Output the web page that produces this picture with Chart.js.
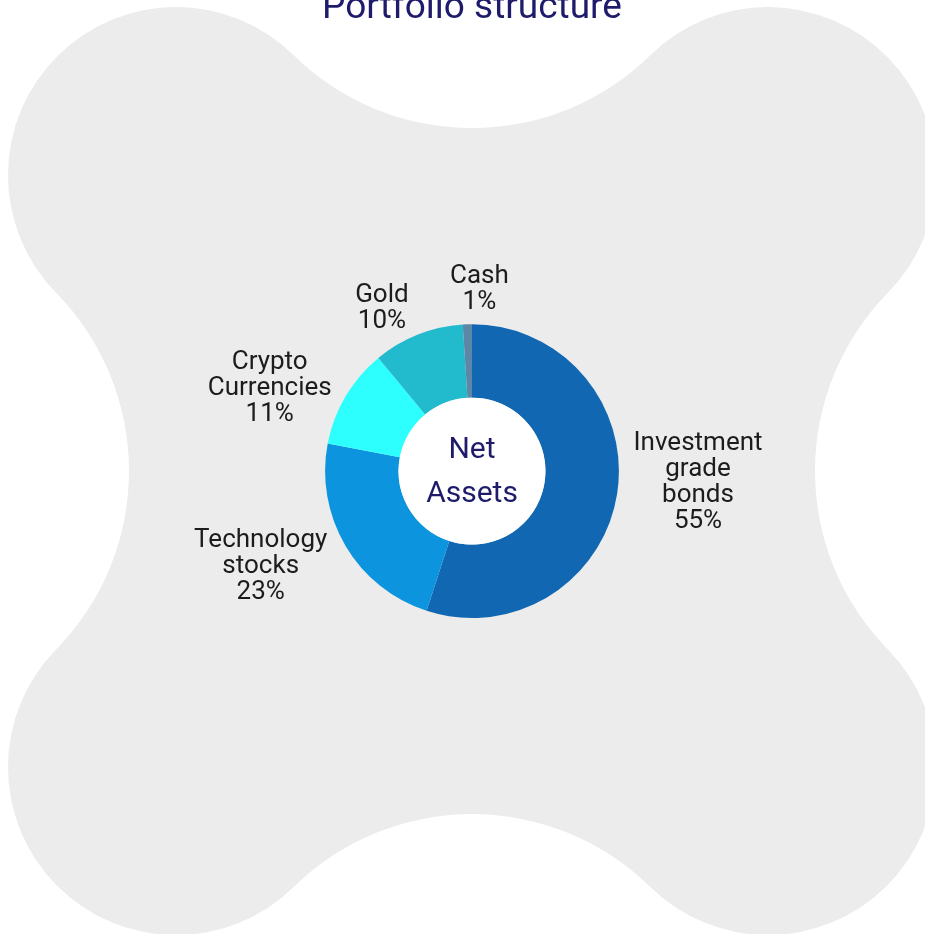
<!DOCTYPE html>
<html>
<head>
<meta charset="utf-8">
<title>Portfolio structure</title>
<script src="https://cdn.jsdelivr.net/npm/chart.js@4.4.1/dist/chart.umd.min.js"></script>
<style>
  html, body { margin: 0; padding: 0; background: #fff; overflow: hidden; }
  /* canvas is a bit wider than the window and starts above it, title gets clipped like the original */
  .chart-wrap { position: absolute; left: 0; top: -15px; width: 944px; height: 949px; }
</style>
</head>
<body>
<div class="chart-wrap"><canvas id="myChart"></canvas></div>
<script>
// data
const chartTitle = 'Portfolio structure';
const categories = ['Investment grade bonds', 'Technology stocks', 'Crypto Currencies', 'Gold', 'Cash'];
const shares = [55, 23, 11, 10, 1];
const centerLines = ['Net', 'Assets'];

const sliceColors = ['#1167b1', '#0d94de', '#2dfffe', '#22bacd', '#5c87a6'];

// grey four-lobed shape behind the chart
const bgShape = {
  id: 'bgShape',
  beforeDraw(chart, args, opts) {
    const ctx = chart.ctx;
    const area = chart.chartArea;
    const cx = (area.left + area.right) / 2;
    const cy = (area.top + area.bottom) / 2;
    const a = opts.lobeOffset, r = opts.lobeRadius, d = opts.notchDepth;
    // big circles for the notches, tangent to the lobes
    const b = (2 * a * a - (r - d) * (r - d)) / (2 * a + 2 * (r - d));
    const R = b - d;
    const corners = [[-1, -1], [1, -1], [1, 1], [-1, 1]];
    const sides = [[0, -1], [1, 0], [0, 1], [-1, 0]];
    ctx.save();
    ctx.fillStyle = opts.color;
    ctx.beginPath();
    for (let i = 0; i < 4; i++) {
      const L = { x: cx + corners[i][0] * a, y: cy + corners[i][1] * a };
      const n = corners[(i + 1) % 4];
      const L2 = { x: cx + n[0] * a, y: cy + n[1] * a };
      const ps = sides[(i + 3) % 4], ns = sides[i];
      const Sp = { x: cx + ps[0] * b, y: cy + ps[1] * b };
      const Sn = { x: cx + ns[0] * b, y: cy + ns[1] * b };
      ctx.arc(L.x, L.y, r, Math.atan2(Sp.y - L.y, Sp.x - L.x), Math.atan2(Sn.y - L.y, Sn.x - L.x), false);
      ctx.arc(Sn.x, Sn.y, R, Math.atan2(L.y - Sn.y, L.x - Sn.x), Math.atan2(L2.y - Sn.y, L2.x - Sn.x), true);
    }
    ctx.closePath();
    ctx.fill();
    ctx.restore();
  }
};

// white hole + "Net Assets"
const centerHole = {
  id: 'centerHole',
  afterDatasetsDraw(chart, args, opts) {
    const ctx = chart.ctx;
    const arc = chart.getDatasetMeta(0).data[0];
    if (!arc) return;
    const p = arc.getProps(['x', 'y', 'innerRadius'], true);
    ctx.save();
    ctx.fillStyle = '#ffffff';
    ctx.beginPath();
    ctx.arc(p.x, p.y, p.innerRadius, 0, Math.PI * 2);
    ctx.fill();
    ctx.fillStyle = opts.color;
    ctx.font = opts.size + 'px ' + opts.family;
    ctx.textAlign = 'center';
    ctx.textBaseline = 'middle';
    const top = p.y - (centerLines.length - 1) * opts.lineGap / 2 + opts.shift;
    centerLines.forEach((t, k) => ctx.fillText(t, p.x, top + k * opts.lineGap));
    ctx.restore();
  }
};

// labels outside the ring: one word per line, then the percentage
const sliceLabels = {
  id: 'sliceLabels',
  afterDatasetsDraw(chart, args, opts) {
    const ctx = chart.ctx;
    const meta = chart.getDatasetMeta(0);
    ctx.save();
    ctx.font = opts.size + 'px ' + opts.family;
    ctx.fillStyle = opts.color;
    ctx.textAlign = 'center';
    ctx.textBaseline = 'middle';
    meta.data.forEach((arc, i) => {
      const p = arc.getProps(['x', 'y', 'startAngle', 'endAngle'], true);
      const mid = (p.startAngle + p.endAngle) / 2;
      const nudge = opts.nudge[i] || [0, 0];
      const lx = p.x + Math.cos(mid) * opts.rx + nudge[0];
      const ly = p.y + Math.sin(mid) * opts.ry + nudge[1] + opts.shift;
      const lines = categories[i].split(' ').concat(shares[i] + '%');
      const top = ly - (lines.length - 1) * opts.lineGap / 2;
      lines.forEach((t, k) => ctx.fillText(t, lx, top + k * opts.lineGap));
    });
    ctx.restore();
  }
};

// config
const config = {
  type: 'doughnut',
  data: {
    labels: categories,
    datasets: [{
      data: shares,
      backgroundColor: sliceColors,
      borderWidth: 0
    }]
  },
  options: {
    responsive: true,
    maintainAspectRatio: false,
    animation: false,
    cutout: '50%',
    layout: { padding: { top: 0, bottom: 316, left: 0, right: 0 } },
    plugins: {
      legend: { display: false },
      tooltip: { enabled: false },
      title: {
        display: true,
        text: chartTitle,
        color: '#1e1b6b',
        font: { family: 'Roboto', size: 37, weight: 'normal', lineHeight: 1.2 },
        padding: { top: 2, bottom: 292.8 }
      },
      bgShape: { color: '#ececec', lobeOffset: 296, lobeRadius: 168, notchDepth: 343 },
      centerHole: { color: '#1e1b6b', family: 'Roboto', size: 30, lineGap: 44, shift: 1 },
      sliceLabels: {
        color: '#1c1c1c', family: 'Roboto', size: 26, lineGap: 26,
        rx: 242, ry: 178, shift: 3,
        nudge: [[-13, -19], [-3, 2], [6, 5], [-1, 0], [15, -7]]
      }
    }
  },
  plugins: [bgShape, centerHole, sliceLabels]
};

const myChart = new Chart(document.getElementById('myChart'), config);
</script>
</body>
</html>
